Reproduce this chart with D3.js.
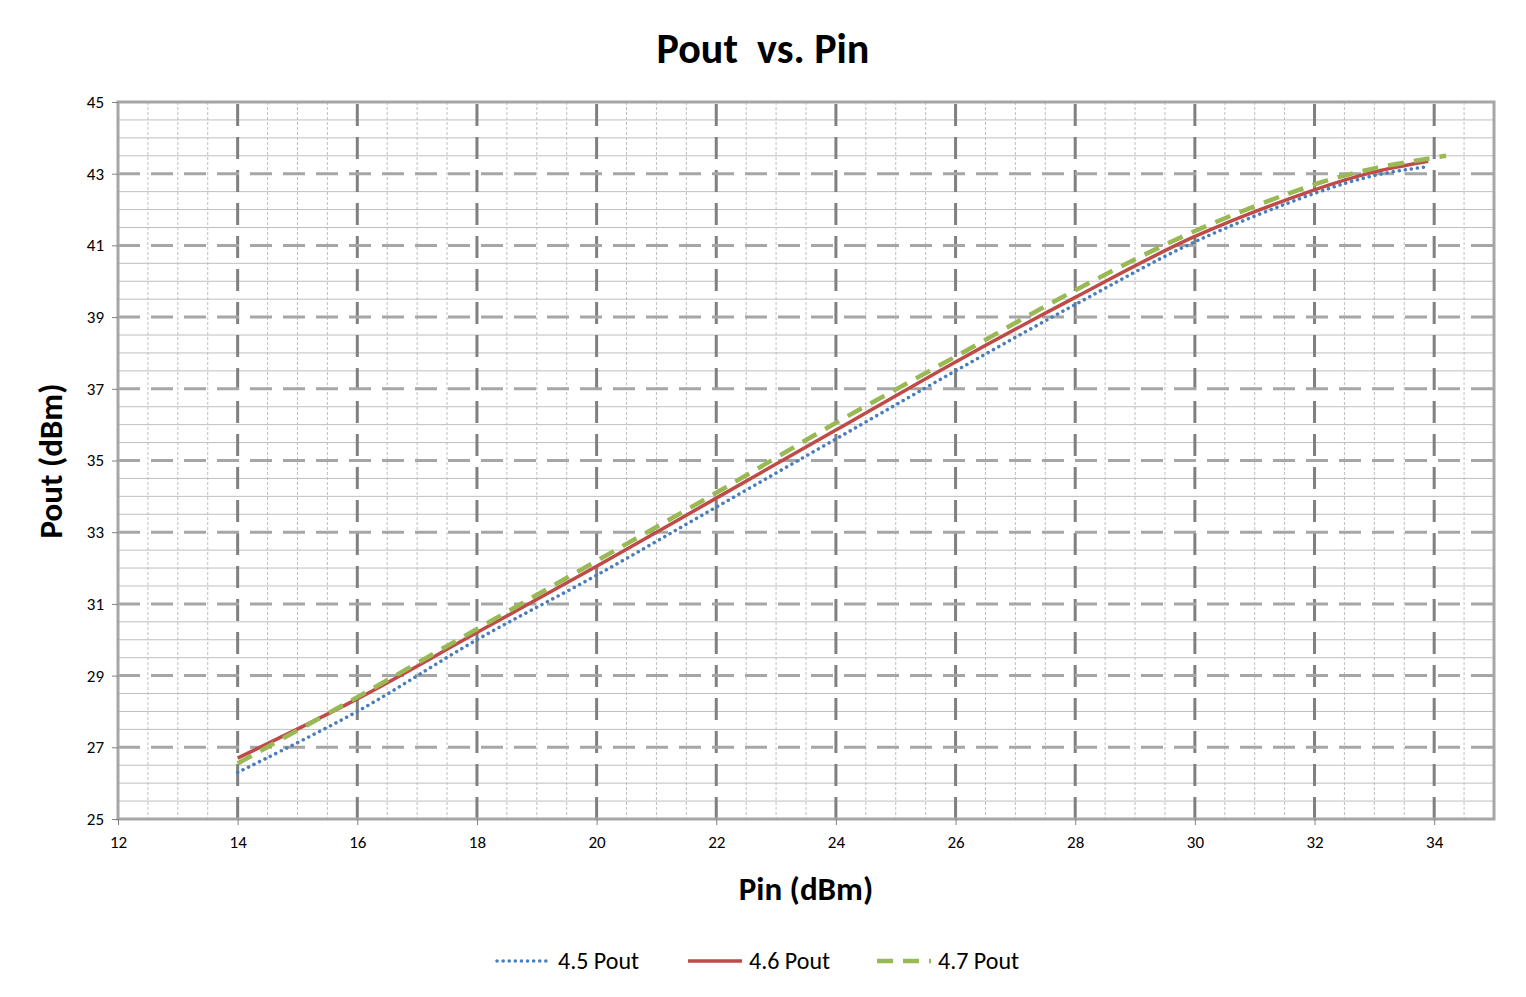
<!DOCTYPE html>
<html><head><meta charset="utf-8">
<script src="https://cdn.jsdelivr.net/npm/d3@7"></script>
<style>body{margin:0;background:#fff;font-family:Calibri,Carlito,"Open Sans",sans-serif;} text{white-space:pre;}</style>
</head><body><svg id="c" width="1526" height="997"></svg>
<script>
const pin45 = [14, 16, 18, 20, 22, 24, 26, 28, 30, 32, 33, 33.9];
const pout45 = [26.3, 28.0, 30.0, 31.8, 33.7, 35.6, 37.5, 39.35, 41.1, 42.45, 42.95, 43.2];
const pin46 = [14, 16, 18, 20, 22, 24, 26, 28, 30, 32, 33, 33.9];
const pout46 = [26.7, 28.35, 30.2, 32.05, 33.95, 35.85, 37.75, 39.55, 41.25, 42.55, 43.05, 43.35];
const pin47 = [14, 16, 18, 20, 22, 24, 26, 28, 30, 32, 33, 34.2];
const pout47 = [26.55, 28.4, 30.3, 32.2, 34.1, 36.05, 37.9, 39.75, 41.4, 42.7, 43.15, 43.5];
const xTicks = d3.range(12, 35, 2);
const yTicks = d3.range(25, 46, 2);

const series = [
  {name: "4.5 Pout", x: pin45, y: pout45, color: "#4a7ebb", dash: "0.1,6", w: 3.5, cap: "round"},
  {name: "4.6 Pout", x: pin46, y: pout46, color: "#be4b48", dash: null, w: 3.5, cap: "butt"},
  {name: "4.7 Pout", x: pin47, y: pout47, color: "#98b954", dash: "16,10", w: 4.5, cap: "butt"}
];

const svg = d3.select("#c");
const L = 118, R = 1494, T = 102, B = 819;
const x = d3.scaleLinear().domain([12, 35]).range([L, R]);
const y = d3.scaleLinear().domain([25, 45]).range([B, T]);
const g = svg.append("g");

// minor grid
g.selectAll(".mx").data(d3.range(12.5, 35, 0.5).filter(v => v % 2 !== 0)).join("line")
  .attr("x1", d => x(d)).attr("x2", d => x(d)).attr("y1", T).attr("y2", B)
  .attr("stroke", "#bfbfbf").attr("stroke-dasharray", "3,2");
g.selectAll(".my").data(d3.range(25.5, 45, 0.5).filter(v => (v - 25) % 2 !== 0)).join("line")
  .attr("x1", L).attr("x2", R).attr("y1", d => y(d)).attr("y2", d => y(d))
  .attr("stroke", "#bfbfbf");
// major grid
g.selectAll(".Mx").data(xTicks.filter(v => v > 12)).join("line")
  .attr("x1", d => x(d)).attr("x2", d => x(d)).attr("y1", T).attr("y2", B)
  .attr("stroke", "#808080").attr("stroke-width", 3).attr("stroke-dasharray", "22,11").attr("stroke-dashoffset", -2);
g.selectAll(".My").data(yTicks.filter(v => v > 25 && v < 45)).join("line")
  .attr("x1", L).attr("x2", R).attr("y1", d => y(d)).attr("y2", d => y(d))
  .attr("stroke", "#a6a6a6").attr("stroke-width", 3).attr("stroke-dasharray", "22,11");
g.append("rect").attr("x", L).attr("y", T).attr("width", R - L).attr("height", B - T)
  .attr("fill", "none").attr("stroke", "#a6a6a6").attr("stroke-width", 3);

// axes
const xa = svg.append("g").attr("transform", `translate(0,${B})`)
  .call(d3.axisBottom(x).tickValues(xTicks).tickSize(6).tickPadding(11));
const ya = svg.append("g").attr("transform", `translate(${L},0)`)
  .call(d3.axisLeft(y).tickValues(yTicks).tickSize(6).tickPadding(8));
[xa, ya].forEach(a => {
  a.attr("font-size", 17).attr("font-family", "Calibri, Carlito, 'Open Sans', sans-serif");
  a.select(".domain").remove();
  a.selectAll("line").attr("stroke", "#808080");
  a.selectAll("text").attr("fill", "#000");
});

const line = d3.line().x(d => x(d[0])).y(d => y(d[1])).curve(d3.curveCatmullRom);
series.forEach(s => {
  svg.append("path").datum(s.x.map((v, i) => [v, s.y[i]])).attr("d", line)
    .attr("fill", "none").attr("stroke", s.color).attr("stroke-width", s.w)
    .attr("stroke-linecap", s.cap).attr("stroke-dasharray", s.dash);
});

svg.append("text").attr("x", 763).attr("y", 63).attr("text-anchor", "middle")
  .attr("font-size", 42).attr("font-weight", "bold").text("Pout  vs. Pin");
svg.append("text").attr("x", 806).attr("y", 900).attr("text-anchor", "middle")
  .attr("font-size", 33).attr("font-weight", "bold").text("Pin (dBm)");
svg.append("text").attr("transform", "translate(62,461) rotate(-90)").attr("text-anchor", "middle")
  .attr("font-size", 33).attr("font-weight", "bold").text("Pout (dBm)");

const lg = svg.append("g");
const lx = [497, 688, 877];
series.forEach((s, i) => {
  lg.append("line").attr("x1", lx[i]).attr("x2", lx[i] + 54).attr("y1", 961).attr("y2", 961)
    .attr("stroke", s.color).attr("stroke-width", s.w).attr("stroke-linecap", s.cap).attr("stroke-dasharray", s.dash);
  lg.append("text").attr("x", lx[i] + 61).attr("y", 969).attr("font-size", 24).text(s.name);
});
</script></body></html>
